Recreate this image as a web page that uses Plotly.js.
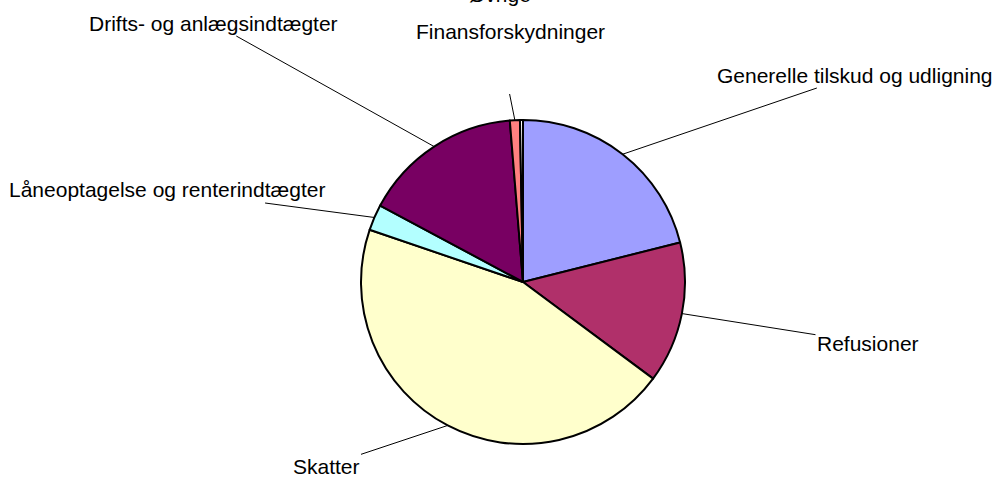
<!DOCTYPE html>
<html>
<head>
<meta charset="utf-8">
<script src="https://cdn.plot.ly/plotly-3.0.1.min.js"></script>
<style>
  html, body { margin: 0; padding: 0; background: #fff; }
  #chart { width: 995px; height: 477px; }
</style>
</head>
<body>
<div id="chart"></div>
<script>
// Slices, clockwise from 12 o'clock (share in %)
const labels = [
  "Generelle tilskud og udligning",
  "Refusioner",
  "Skatter",
  "Låneoptagelse og renterindtægter",
  "Drifts- og anlægsindtægter",
  "Finansforskydninger",
  "Øvrige"
];
const values = [21.1, 14.1, 45.1, 2.6, 15.9, 1.0, 0.3];
const colors = ["#9E9EFF", "#B0306A", "#FFFFCC", "#B3FFFF", "#780062", "#FF8080", "#FFFFFF"];

// Label centres in pixels (layout only)
const labelX = [855, 868, 326, 167, 213, 507, 500];
const labelY = [75, 343, 466, 190, 23, 81, -5];

const W = 995, H = 477;
const CX = 523, CY = 282, R = 162;
const FONT = { family: "Liberation Sans, Arial, sans-serif", size: 21, color: "#000" };

const trace = {
  type: "pie",
  labels: labels,
  values: values,
  sort: false,
  direction: "clockwise",
  rotation: 0,
  textinfo: "none",
  hoverinfo: "label+percent",
  marker: { colors: colors, line: { color: "#000", width: 2 } },
  domain: {
    x: [(CX - R) / W, (CX + R) / W],
    y: [(H - CY - R) / H, (H - CY + R) / H]
  }
};

// Leader lines from the middle of each slice's rim to its label
const total = values.reduce((a, b) => a + b, 0);
const annotations = [];
let cum = 0;
values.forEach((v, i) => {
  const mid = (cum + v / 2) / total * 2 * Math.PI;
  cum += v;
  const hx = CX + R * Math.sin(mid);
  const hy = CY - R * Math.cos(mid);
  if (i === 6) {
    // label is mostly cut off by the top edge, as in the source
    annotations.push({
      xref: "paper", yref: "paper",
      x: labelX[i] / W, y: 1 - labelY[i] / H,
      xanchor: "center", yanchor: "middle",
      text: labels[i], showarrow: false, font: FONT
    });
    return;
  }
  annotations.push({
    xref: "paper", yref: "paper",
    x: hx / W, y: 1 - hy / H,
    ax: labelX[i] - hx, ay: labelY[i] - hy,
    text: i === 5 ? " " : labels[i],
    showarrow: true,
    arrowhead: 0, arrowwidth: 1, arrowcolor: "#000", standoff: 0,
    font: FONT
  });
});
// Finansforskydninger label sits above its leader line
annotations.push({
  xref: "paper", yref: "paper",
  x: 510 / W, y: 1 - 31 / H,
  xanchor: "center", yanchor: "middle",
  text: labels[5], showarrow: false, font: FONT
});

const layout = {
  width: W, height: H,
  margin: { l: 0, r: 0, t: 0, b: 0 },
  paper_bgcolor: "#fff",
  showlegend: false,
  annotations: annotations
};

Plotly.newPlot("chart", [trace], layout, { displayModeBar: false, staticPlot: true });
</script>
</body>
</html>
